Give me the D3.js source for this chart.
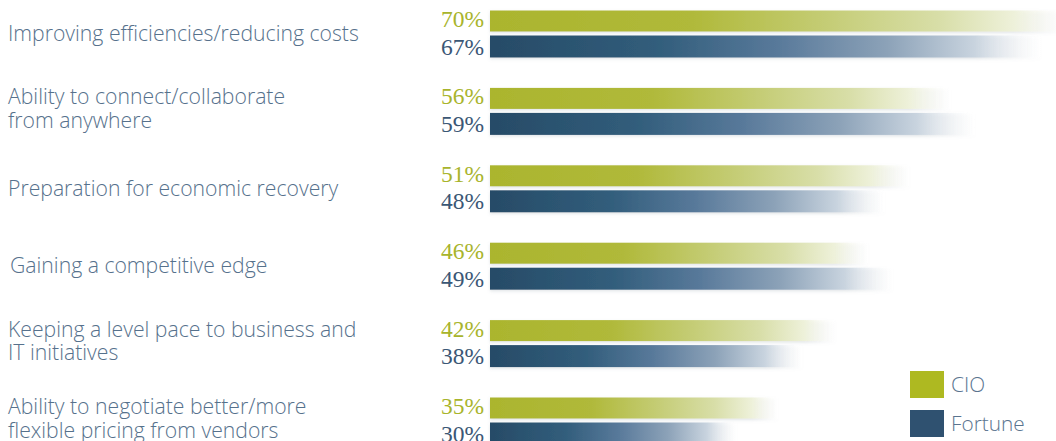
<!DOCTYPE html>
<html>
<head>
<meta charset="utf-8">
<script src="https://cdn.jsdelivr.net/npm/d3@7"></script>
<style>
  html, body { margin: 0; padding: 0; background: #fff; }
  svg { display: block; }
</style>
</head>
<body>
<div id="chart"></div>
<script>
// DATA
const categories = [
    ["Improving efficiencies/reducing costs"],
    ["Ability to connect/collaborate", "from anywhere"],
    ["Preparation for economic recovery"],
    ["Gaining a competitive edge"],
    ["Keeping a level pace to business and", "IT initiatives"],
    ["Ability to negotiate better/more", "flexible pricing from vendors"]
];
const cioValues = [70, 56, 51, 46, 42, 35];
const fortuneValues = [67, 59, 48, 49, 38, 30];
const seriesNames = ["CIO", "Fortune"];

// SETUP
const width = 1056;
const height = 441;

const svg = d3.select("#chart").append("svg")
    .attr("width", width)
    .attr("height", height);

const defs = svg.append("defs");

// Fading gradients for each series
const gradientStops = {
    cio: [
        [0, "#abb52e", 1], [0.35, "#b0b93a", 1], [0.58, "#c4cc74", 1],
        [0.78, "#d8dea8", 1], [0.91, "#eef1da", 1], [1, "#ffffff", 0]
    ],
    fortune: [
        [0, "#274b67", 1], [0.3, "#315d7b", 1], [0.52, "#58799a", 1],
        [0.72, "#8ca2b8", 1], [0.88, "#c9d4df", 1], [1, "#ffffff", 0]
    ]
};

Object.entries(gradientStops).forEach(([key, stops]) => {
    const grad = defs.append("linearGradient")
        .attr("id", `grad-${key}`)
        .attr("x1", "0%").attr("x2", "100%")
        .attr("y1", "0%").attr("y2", "0%");
    stops.forEach(([o, c, a]) => {
        grad.append("stop")
            .attr("offset", o)
            .attr("stop-color", c)
            .attr("stop-opacity", a);
    });
});

// soft shadow under bars
const shadow = defs.append("filter")
    .attr("id", "soft")
    .attr("x", "-5%").attr("y", "-40%")
    .attr("width", "110%").attr("height", "200%");
shadow.append("feDropShadow")
    .attr("dx", 0).attr("dy", 1.5)
    .attr("stdDeviation", 1.5)
    .attr("flood-color", "#8a96a0")
    .attr("flood-opacity", 0.25);

// SCALES
const x = d3.scaleLinear()
    .domain([0, 100])
    .range([490, 1313]);

const rowStep = 77.4;
const y = d3.scaleBand()
    .domain(d3.range(categories.length))
    .range([10.5, 10.5 + rowStep * categories.length])
    .paddingInner(0);

const cioH = 21;
const gap = 4;
const fortuneH = 22;

// ROWS
const rows = svg.append("g")
    .selectAll("g")
    .data(categories.map((c, i) => ({label: c, cio: cioValues[i], fortune: fortuneValues[i], i})))
    .enter().append("g")
    .attr("transform", d => `translate(0,${y(d.i)})`);

// CIO bars
rows.append("rect")
    .attr("x", x(0))
    .attr("y", 0)
    .attr("width", d => x(d.cio) - x(0))
    .attr("height", cioH)
    .attr("fill", "url(#grad-cio)")
    .attr("filter", "url(#soft)");

// Fortune bars
rows.append("rect")
    .attr("x", x(0))
    .attr("y", cioH + gap)
    .attr("width", d => x(d.fortune) - x(0))
    .attr("height", fortuneH)
    .attr("fill", "url(#grad-fortune)")
    .attr("filter", "url(#soft)");

// Value labels
rows.append("text")
    .attr("x", 484)
    .attr("y", cioH / 2 + 6)
    .attr("text-anchor", "end")
    .attr("font-family", "'Liberation Serif', serif")
    .attr("font-size", 23.5)
    .attr("fill", "#a8b42c")
    .text(d => `${d.cio}%`);

rows.append("text")
    .attr("x", 484)
    .attr("y", cioH + gap + fortuneH / 2 + 8)
    .attr("text-anchor", "end")
    .attr("font-family", "'Liberation Serif', serif")
    .attr("font-size", 23.5)
    .attr("fill", "#3b5775")
    .text(d => `${d.fortune}%`);

// Category labels
const mid = (cioH + gap + fortuneH) / 2;
rows.append("text")
    .attr("font-family", "'Open Sans', sans-serif")
    .attr("font-weight", 300)
    .attr("font-size", 21.2)
    .attr("fill", "#56718c")
    .each(function(d) {
        const t = d3.select(this);
        const lines = d.label;
        const y0 = lines.length === 1 ? mid + 7 : mid - 7;
        lines.forEach((line, k) => {
            t.append("tspan")
                .attr("x", d.i === 3 ? 10 : 8)
                .attr("y", y0 + k * 23.5)
                .text(line);
        });
    });

// LEGEND
const legendColors = ["#aeb921", "#2f5170"];
const legend = svg.append("g")
    .selectAll("g")
    .data(seriesNames)
    .enter().append("g")
    .attr("transform", (d, i) => `translate(910,${371 + i * 39})`);

legend.append("rect")
    .attr("width", 34)
    .attr("height", 27)
    .attr("fill", (d, i) => legendColors[i]);

legend.append("text")
    .attr("x", 41)
    .attr("y", 21)
    .attr("font-family", "'Open Sans', sans-serif")
    .attr("font-weight", 300)
    .attr("font-size", 20.8)
    .attr("fill", "#5a748f")
    .text(d => d);
</script>
</body>
</html>
